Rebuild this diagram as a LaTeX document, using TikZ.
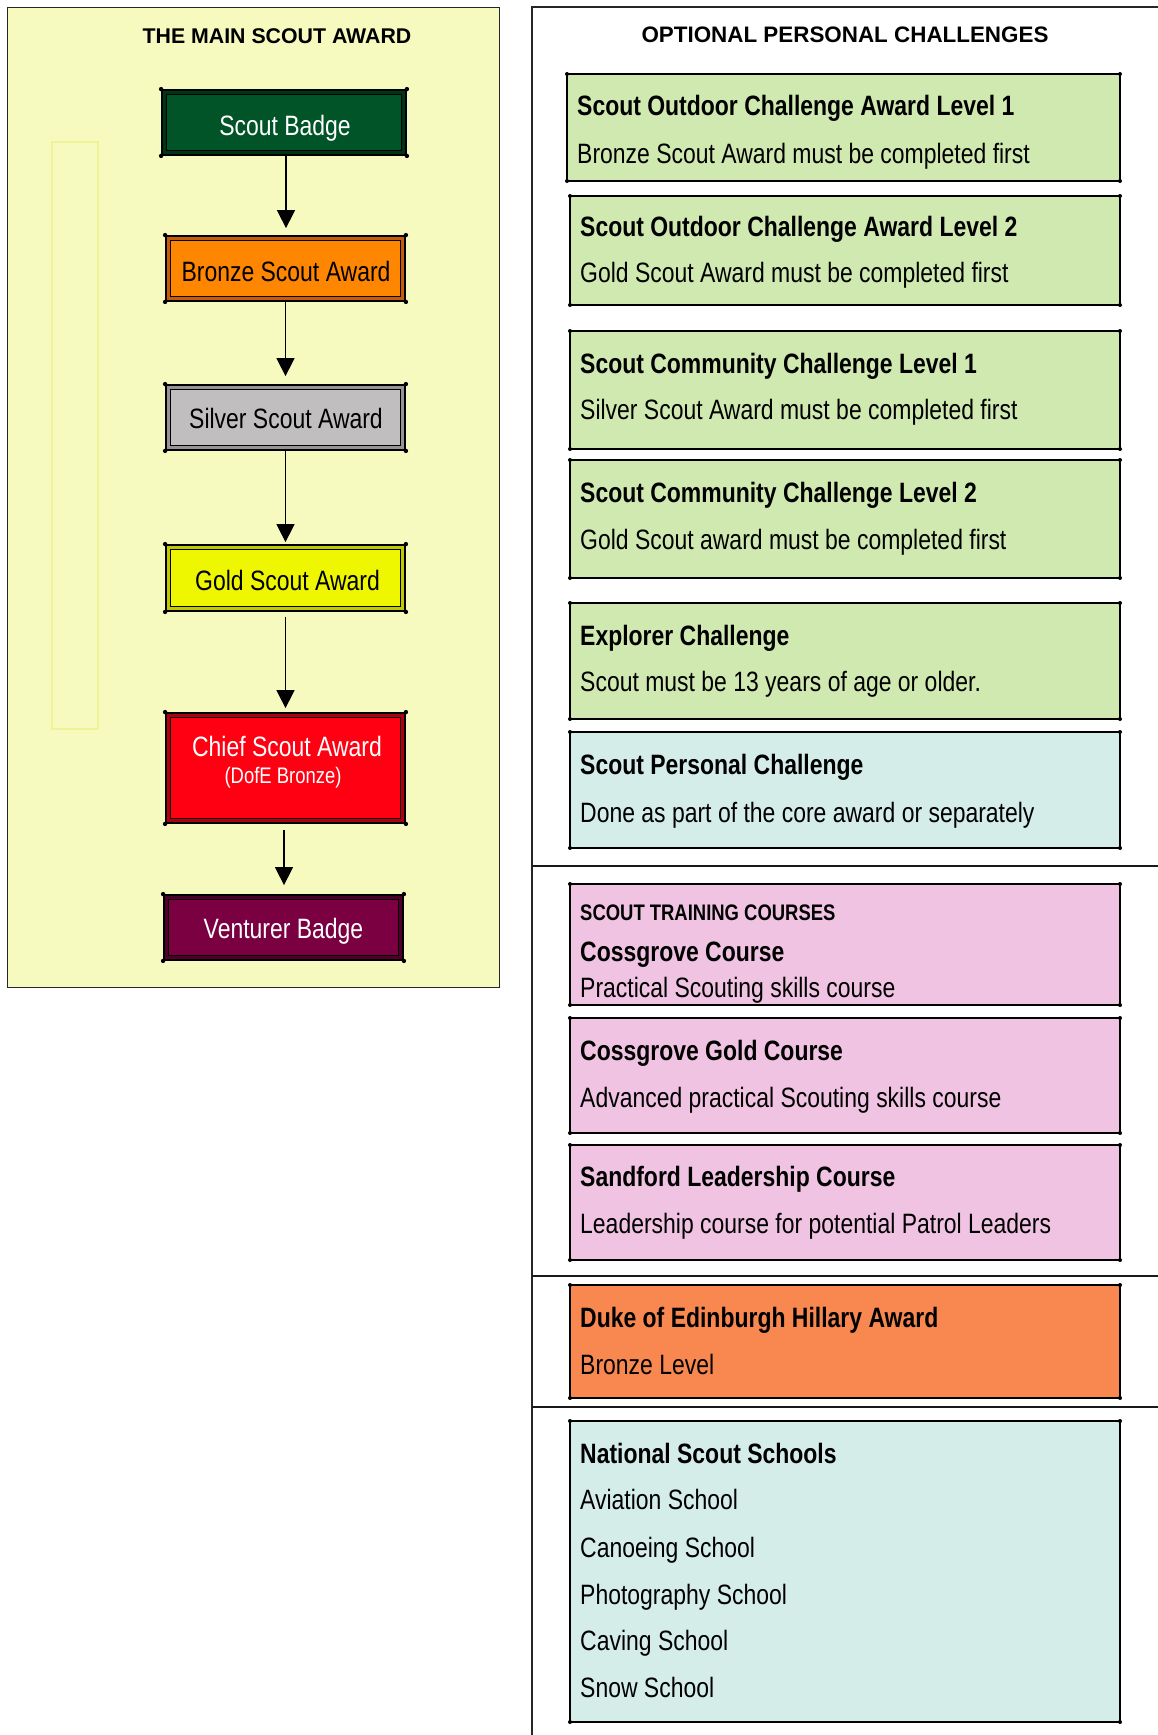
\documentclass[tikz,border=0pt]{standalone}
\usepackage{fontspec}
\newfontfamily\nar{Liberation Sans}[FakeStretch=0.82]
\newfontfamily\wide{Liberation Sans}
\usetikzlibrary{arrows.meta}
\definecolor{panelY}{RGB}{247,250,191}
\definecolor{faintY}{RGB}{238,244,150}
\definecolor{sbF}{RGB}{0,84,40}\definecolor{sbB}{RGB}{0,52,22}
\definecolor{brF}{RGB}{255,134,0}\definecolor{brB}{RGB}{196,92,10}
\definecolor{siF}{RGB}{192,190,190}\definecolor{siB}{RGB}{150,148,148}
\definecolor{goF}{RGB}{238,246,0}\definecolor{goB}{RGB}{196,200,0}
\definecolor{chF}{RGB}{255,0,18}\definecolor{chB}{RGB}{176,0,14}
\definecolor{veF}{RGB}{122,0,66}\definecolor{veB}{RGB}{78,0,40}
\definecolor{grn}{RGB}{208,233,176}
\definecolor{cyn}{RGB}{213,237,233}
\definecolor{pnk}{RGB}{240,195,226}
\definecolor{org}{RGB}{248,135,80}
\tikzset{
  lbox/.style={draw=black, line width=1.6pt, double distance=3pt, inner sep=0pt, outer sep=0pt},
  rbox/.style={draw=black, line width=1.8pt, inner sep=0pt, outer sep=0pt, anchor=north west},
  ltext/.style={anchor=base, inner sep=0pt, font=\nar\fontsize{28}{30}\selectfont},
  rtext/.style={anchor=base west, inner sep=0pt, font=\nar\fontsize{28}{30}\selectfont},
  arr/.style={-{Triangle[length=18pt,width=18pt]}, line width=1.5pt},
  sepline/.style={line width=1.8pt, draw=black!90},
  cdot/.style={fill=black}
}
\begin{document}
\begin{tikzpicture}[x=1pt,y=-1pt]
\useasboundingbox (0,0) rectangle (1158,1735);
\fill[white] (0,0) rectangle (1158,1735);
% left panel
\node[draw=black!85, line width=1.2pt, fill=panelY, minimum width=492pt, minimum height=980pt, anchor=north west, inner sep=0pt] (lpanel) at (7,7) {};
\draw[faintY, line width=1.2pt] (52,142) rectangle (98,729);
\node[anchor=base, inner sep=0pt, font=\wide\bfseries\fontsize{21.3}{23}\selectfont] (ltitle) at (277,43) {THE MAIN SCOUT AWARD};
% left boxes
\node[lbox, fill=sbF, double=sbB, minimum width=239.8pt, minimum height=60.8pt] (sb) at (284,122.5) {};
\node[lbox, fill=brF, double=brB, minimum width=234.8pt, minimum height=60.8pt] (br) at (285.5,268.5) {};
\node[lbox, fill=siF, double=siB, minimum width=234.8pt, minimum height=60.8pt] (si) at (285.5,417.5) {};
\node[lbox, fill=goF, double=goB, minimum width=234.8pt, minimum height=61.8pt] (go) at (285.5,578) {};
\node[lbox, fill=chF, double=chB, minimum width=234.8pt, minimum height=105.8pt] (ch) at (285.5,768) {};
\node[lbox, fill=veF, double=veB, minimum width=234.8pt, minimum height=60.8pt] (ve) at (283.5,927.5) {};
\foreach \n in {sb,br,si,go,ch,ve}{
  \fill (\n.north west) ++(-3,-3) circle (2.2);
  \fill (\n.north east) ++(3,-3) circle (2.2);
  \fill (\n.south west) ++(-3,3) circle (2.2);
  \fill (\n.south east) ++(3,3) circle (2.2);
}
\node[ltext, text=white] (sbt) at (285,135) {Scout Badge};
\node[ltext] (brt) at (286,281) {Bronze Scout Award};
\node[ltext] (sit) at (286,428) {Silver Scout Award};
\node[ltext] (got) at (287.5,590) {Gold Scout Award};
\node[ltext, text=white] (cht) at (287,756) {Chief Scout Award};
\node[ltext, text=white, font=\nar\fontsize{22.5}{24}\selectfont] (chs) at (283,783) {(DofE Bronze)};
\node[ltext, text=white] (vet) at (283.5,938) {Venturer Badge};
% arrows
\draw[arr, shorten <=3pt, shorten >=10pt] ([xshift=2pt]sb.south) -- ([xshift=2pt]sb.south |- br.north);
\draw[arr, shorten <=3pt, shorten >=11pt] (br.south) -- (br.south |- si.north);
\draw[arr, shorten <=3pt, shorten >=5pt] (si.south) -- (si.south |- go.north);
\draw[arr, shorten <=8pt, shorten >=7pt] (go.south) -- (go.south |- ch.north);
\draw[arr, shorten <=9pt, shorten >=12pt] ([xshift=-1.5pt]ch.south) -- ([xshift=-1.5pt]ch.south |- ve.north);
% right panel frame
\coordinate (rp1) at (532,1735);
\coordinate (rp2) at (532,7);
\coordinate (rp3) at (1158,7);
\draw[line width=1.3pt, draw=black!85] (rp1) -- (rp2) -- (rp3);
\node[anchor=base, inner sep=0pt, font=\wide\bfseries\fontsize{22.4}{24}\selectfont] (rtitle) at (845,42) {OPTIONAL PERSONAL CHALLENGES};
% right boxes
\node[rbox, fill=grn, minimum width=553pt, minimum height=107pt] (b1) at (567,74) {};
\node[rbox, fill=grn, minimum width=550pt, minimum height=109pt] (b2) at (570,196) {};
\node[rbox, fill=grn, minimum width=550pt, minimum height=118pt] (b3) at (570,331) {};
\node[rbox, fill=grn, minimum width=550pt, minimum height=118pt] (b4) at (570,460) {};
\node[rbox, fill=grn, minimum width=550pt, minimum height=116pt] (b5) at (570,603) {};
\node[rbox, fill=cyn, minimum width=550pt, minimum height=116pt] (b6) at (570,732) {};
\node[rbox, fill=pnk, minimum width=550pt, minimum height=121pt] (p1) at (570,884) {};
\node[rbox, fill=pnk, minimum width=550pt, minimum height=115pt] (p2) at (570,1018) {};
\node[rbox, fill=pnk, minimum width=550pt, minimum height=115pt] (p3) at (570,1145) {};
\node[rbox, fill=org, minimum width=550pt, minimum height=113pt] (d1) at (570,1285) {};
\node[rbox, fill=cyn, minimum width=550pt, minimum height=301pt] (n1) at (570,1421) {};
\foreach \n in {b1,b2,b3,b4,b5,b6,p1,p2,p3,d1,n1}{
  \foreach \a in {north west,north east,south west,south east}
    \fill (\n.\a) circle (2);
}
% separators
\coordinate (s1a) at (532,866); \coordinate (s1b) at (1158,866);
\coordinate (s2a) at (532,1276); \coordinate (s2b) at (1158,1276);
\coordinate (s3a) at (532,1407); \coordinate (s3b) at (1158,1407);
\draw[sepline] (s1a) -- (s1b);
\draw[sepline] (s2a) -- (s2b);
\draw[sepline] (s3a) -- (s3b);
% right texts
\node[rtext] (b1a) at (577,115) {\bfseries Scout Outdoor Challenge Award Level 1};
\node[rtext] (b1b) at (577,163) {Bronze Scout Award must be completed first};
\node[rtext] (b2a) at (580,236) {\bfseries Scout Outdoor Challenge Award Level 2};
\node[rtext] (b2b) at (580,282) {Gold Scout Award must be completed first};
\node[rtext] (b3a) at (580,373) {\bfseries Scout Community Challenge Level 1};
\node[rtext] (b3b) at (580,419) {Silver Scout Award must be completed first};
\node[rtext] (b4a) at (580,502) {\bfseries Scout Community Challenge Level 2};
\node[rtext] (b4b) at (580,549) {Gold Scout award must be completed first};
\node[rtext] (b5a) at (580,645) {\bfseries Explorer Challenge};
\node[rtext] (b5b) at (580,691) {Scout must be 13 years of age or older.};
\node[rtext] (b6a) at (580,774) {\bfseries Scout Personal Challenge};
\node[rtext] (b6b) at (580,822) {Done as part of the core award or separately};
\node[rtext, font=\nar\bfseries\fontsize{22.5}{24}\selectfont] (p1h) at (580,920) {SCOUT TRAINING COURSES};
\node[rtext] (p1a) at (580,961) {\bfseries Cossgrove Course};
\node[rtext] (p1b) at (580,997) {Practical Scouting skills course};
\node[rtext] (p2a) at (580,1060) {\bfseries Cossgrove Gold Course};
\node[rtext] (p2b) at (580,1107) {Advanced practical Scouting skills course};
\node[rtext] (p3a) at (580,1186) {\bfseries Sandford Leadership Course};
\node[rtext] (p3b) at (580,1233) {Leadership course for potential Patrol Leaders};
\node[rtext] (d1a) at (580,1327) {\bfseries Duke of Edinburgh Hillary Award};
\node[rtext] (d1b) at (580,1374) {Bronze Level};
\node[rtext] (n1a) at (580,1463) {\bfseries National Scout Schools};
\node[rtext] (n1b) at (580,1509) {Aviation School};
\node[rtext] (n1c) at (580,1557) {Canoeing School};
\node[rtext] (n1d) at (580,1604) {Photography School};
\node[rtext] (n1e) at (580,1650) {Caving School};
\node[rtext] (n1f) at (580,1697) {Snow School};
\end{tikzpicture}
\end{document}
